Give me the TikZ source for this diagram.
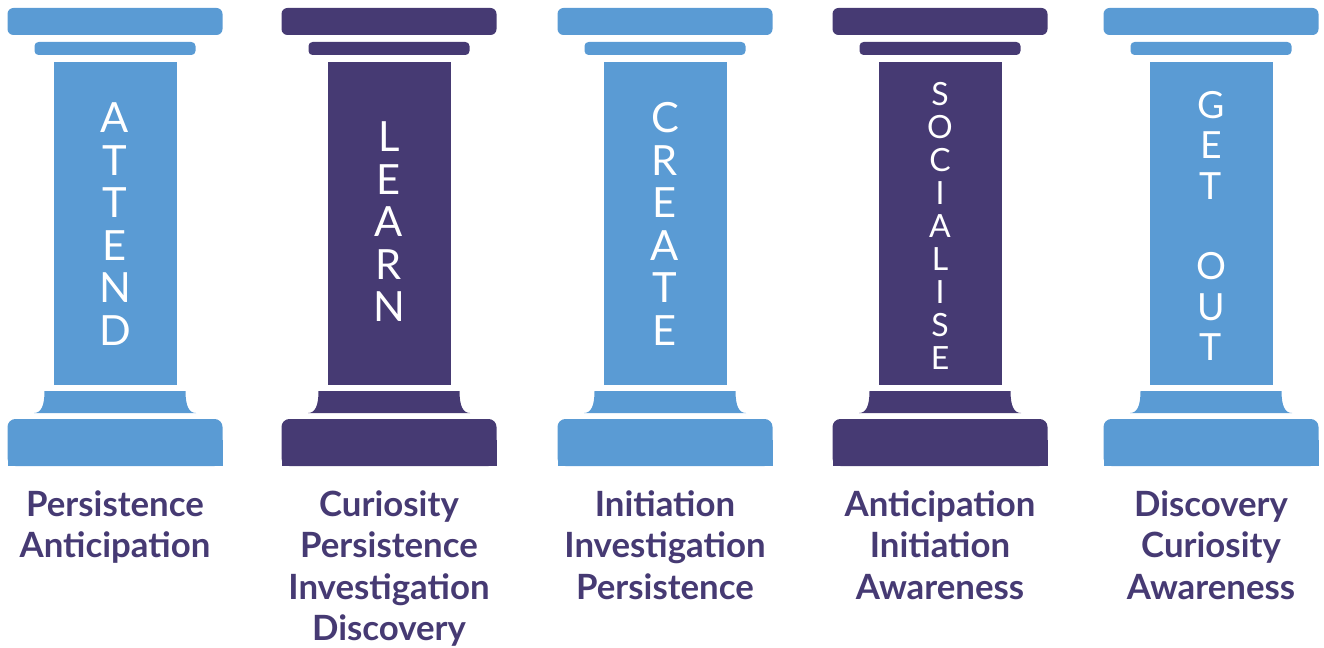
\documentclass[tikz,border=0pt]{standalone}
\usepackage{fontspec}
\setmainfont{Lato}

\definecolor{pillarblue}{HTML}{5A9BD4}
\definecolor{pillarpurple}{HTML}{463A73}

% one column: #1 centre x (px), #2 colour
\newcommand{\drawpillar}[2]{%
  \fill[#2, rounded corners=3.4pt] ({#1-107.5},8) rectangle ({#1+107.5},35);
  \fill[#2, rounded corners=2.3pt] ({#1-80.5},42) rectangle ({#1+80.5},55);
  \fill[#2] ({#1-61.5},62) rectangle ({#1+61.5},385);
  \fill[#2] ({#1-70.5},391) -- ({#1+70.5},391)
     .. controls ({#1+70.5},406) and ({#1+74},413) .. ({#1+81},413)
     -- ({#1-81},413)
     .. controls ({#1-74},413) and ({#1-70.5},406) .. ({#1-70.5},391) -- cycle;
  \fill[#2, rounded corners=4.5pt] ({#1-107.5},419) rectangle ({#1+107.5},466);
  \fill[#2] ({#1-107.5},440) rectangle ({#1+107.5},466);
}

\begin{document}
\begin{tikzpicture}[x=0.02cm, y=-0.02cm,
    letters/.style ={text=white, align=center, inner sep=0pt,
                     font=\fontsize{23.7}{24.2}\selectfont},
    virtue/.style ={text=pillarpurple, align=center, inner sep=0pt, anchor=north,
                    font=\bfseries\fontsize{19.8}{23.6}\selectfont}]
   \useasboundingbox (0,0) rectangle (1324,648);

   \drawpillar{115}{pillarblue}
   \drawpillar{389}{pillarpurple}
   \drawpillar{665}{pillarblue}
   \drawpillar{940}{pillarpurple}
   \drawpillar{1211}{pillarblue}

   \node[letters] (attend) at (115,224) {A\\T\\T\\E\\N\\D};
   \node[letters] (learn) at (389,222) {L\\E\\A\\R\\N};
   \node[letters] (create) at (665,224) {C\\R\\E\\A\\T\\E};
   \node[letters, font=\fontsize{18.2}{18.8}\selectfont] (socialise) at (940,226) {S\\O\\C\\I\\A\\L\\I\\S\\E};
   \node[letters, font=\fontsize{21.3}{23}\selectfont] (getout) at (1211,226) {G\\E\\T\\~\\O\\U\\T};

   \node[virtue] (attendtext) at (115,490) {Persistence\\Anticipation};
   \node[virtue] (learntext) at (389,490) {Curiosity\\Persistence\\Investigation\\Discovery};
   \node[virtue] (createtext) at (665,490) {Initiation\\Investigation\\Persistence};
   \node[virtue] (socialisetext) at (940,490) {Anticipation\\Initiation\\Awareness};
   \node[virtue] (getouttext) at (1211,490) {Discovery\\Curiosity\\Awareness};
 \end{tikzpicture}
\end{document}
